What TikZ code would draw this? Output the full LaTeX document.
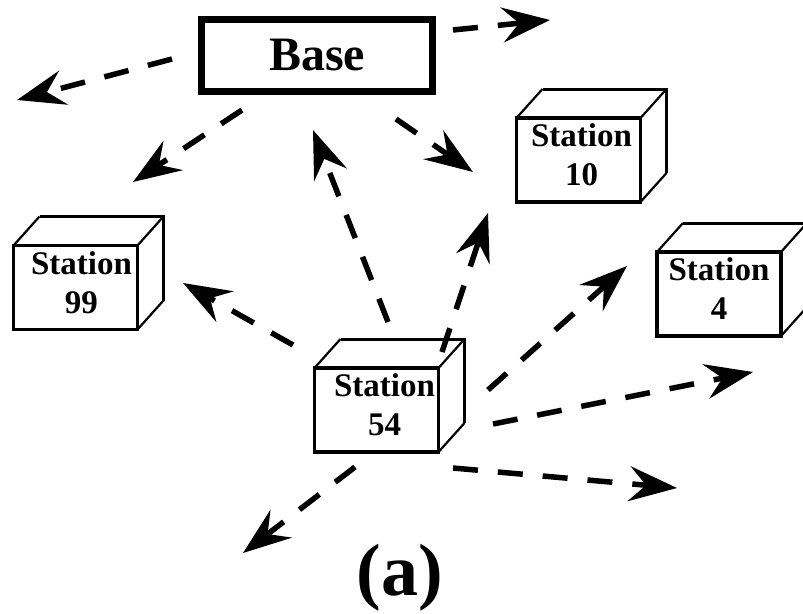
\documentclass[tikz,border=0pt]{standalone}
\usepackage{fontspec}
\setmainfont{Liberation Serif}[BoldFont={Liberation Serif Bold}]
\usetikzlibrary{arrows.meta,calc}
\begin{document}
\begin{tikzpicture}[x=1pt,y=-1pt,
  face/.style={draw, line width=3.5pt, minimum width=124pt, minimum height=84pt,
    inner sep=0pt, outer sep=0pt, align=center, text depth=10pt,
    font=\fontsize{33}{39}\selectfont\bfseries},
  backedge/.style={line width=3pt, line join=miter},
  slant/.style={line width=2.2pt},
  link/.style={line width=5.5pt, dash pattern=on 25pt off 20pt,
    -{Stealth[length=48pt,width=35pt,inset=17pt]}},
]
\useasboundingbox (0,0) rectangle (803,613);

% base station
\node[draw, line width=7pt, minimum width=231pt, minimum height=72pt,
  inner sep=0pt, outer sep=0pt, font=\fontsize{48}{52}\selectfont\bfseries]
  (base) at (317,55.5) {Base};

% stations drawn as boxes
\node[face] (s99) at (75.5,287.5) {\hspace*{12pt}Station\\\hspace*{12pt}99};
\node[face] (s10) at (578.5,160) {\hspace*{6pt}Station\\\hspace*{6pt}10};
\node[face] (s4)  at (719,294)   {Station\\4};
\node[face] (s54) at (376.5,410) {\hspace*{16pt}Station\\\hspace*{16pt}54};

\foreach \n in {s99,s10,s4,s54}{
  \draw[backedge] ($(\n.north west)+(26,-29)$) -- ($(\n.north east)+(26,-29)$)
                  -- ($(\n.south east)+(26,-29)$);
  \draw[slant] (\n.north west) -- ++(26,-29);
  \draw[slant] (\n.north east) -- ++(26,-29);
  \draw[slant] (\n.south east) -- ++(26,-29);
}

% connector end points
\coordinate (b1) at (172,59);   \coordinate (t1) at (17,100);
\coordinate (b2) at (453,30);   \coordinate (t2) at (550,20);
\coordinate (b3) at (242,110);  \coordinate (t3) at (133,182);
\coordinate (b4) at (396,119);  \coordinate (t4) at (473,172);
\coordinate (m5) at (388,322);  \coordinate (t5) at (313,130);
\coordinate (m6) at (442,352);  \coordinate (t6) at (488,213);
\coordinate (m7) at (293,345);  \coordinate (t7) at (183,283);
\coordinate (m8) at (488,390);  \coordinate (t8) at (627,266);
\coordinate (m9) at (493,424);  \coordinate (t9) at (753,372);
\coordinate (m10) at (453,468); \coordinate (t10) at (677,488);
\coordinate (m11) at (355,467); \coordinate (t11) at (243,553);

% messages from the base
\draw[link] (b1) -- (t1);
\draw[link] (b2) -- (t2);
\draw[link] (b3) -- (t3);
\draw[link] (b4) -- (t4);

% messages from station 54
\draw[link] (m5) -- (t5);
\draw[link] (m6) -- (t6);
\draw[link] (m7) -- (t7);
\draw[link] (m8) -- (t8);
\draw[link] (m9) -- (t9);
\draw[link] (m10) -- (t10);
\draw[link] (m11) -- (t11);

% caption
\node[anchor=base, inner sep=0pt, font=\fontsize{74}{80}\selectfont\bfseries]
  (cap) at (400,595) {(a)};
\end{tikzpicture}
\end{document}
